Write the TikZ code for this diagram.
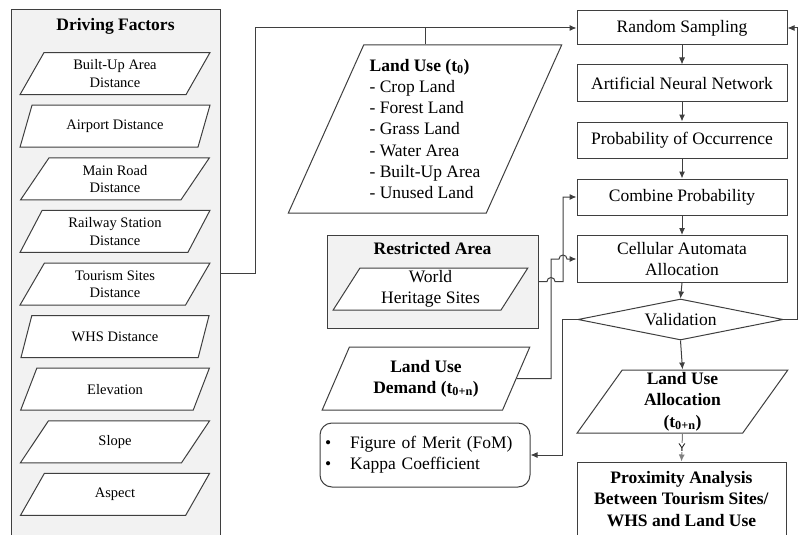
\documentclass[tikz,border=0pt]{standalone}
\usepackage{fontspec}
\setmainfont{Liberation Serif}
\setsansfont{Liberation Sans}
\usetikzlibrary{arrows.meta}
\usetikzlibrary{shapes}
\definecolor{boxgray}{HTML}{F2F2F2}
\definecolor{linegray}{HTML}{3F3F3F}

\begin{document}
\begin{tikzpicture}[x = 1pt, y = -1pt, font = \fontsize{17.5}{21.3}\selectfont, >={Latex[length=7pt,width=6pt]}]
\tikzstyle{GroupStyle}=[rectangle, draw = linegray, line width = 1pt, fill = boxgray]
\tikzstyle{ProcStyle}=[rectangle, draw = linegray, line width = 1pt, minimum width = 210pt, align = center, inner sep = 2pt]
\tikzstyle{DataStyle}=[trapezium, trapezium left angle = 64, trapezium right angle = 116, trapezium stretches = true, draw = linegray, line width = 1pt, fill = white, align = center, inner sep = 1pt]
\tikzstyle{FactorStyle}=[DataStyle, minimum width = 190pt, minimum height = 42pt, font = \fontsize{14.5}{17.3}\selectfont]
\tikzstyle{LinkStyle}=[draw = linegray, line width = 1pt]
\useasboundingbox (0,0) rectangle (798,535);
\node[GroupStyle, minimum width = 209pt, minimum height = 527pt] (df) at (115.5,273.5) {};
\node (dft) at (115.5,26) {\textbf{Driving Factors}};
\node[FactorStyle] (f1) at (115,73.6) {Built-Up Area\\Distance};
\node[FactorStyle] (f2) at (115,126.2) {Airport Distance};
\node[FactorStyle] (f3) at (115,178.8) {Main Road\\Distance};
\node[FactorStyle] (f4) at (115,231.4) {Railway Station\\Distance};
\node[FactorStyle] (f5) at (115,284) {Tourism Sites\\Distance};
\node[FactorStyle] (f6) at (115,336.6) {WHS Distance};
\node[FactorStyle] (f7) at (115,389.2) {Elevation};
\node[FactorStyle] (f8) at (115,441.8) {Slope};
\node[FactorStyle] (f9) at (115,494.4) {Aspect};
\node[DataStyle, align = left, minimum width = 274pt, minimum height = 168pt] (lu) at (425,129) {\textbf{Land Use (t\textsubscript{0})}\\- Crop Land\\- Forest Land\\- Grass Land\\- Water Area\\- Built-Up Area\\- Unused Land};
\node[GroupStyle, minimum width = 211pt, minimum height = 93pt] (ra) at (432.5,281.5) {};
\node (rat) at (432.5,249) {\textbf{Restricted Area}};
\node[DataStyle, minimum width = 195pt, minimum height = 42pt] (whs) at (430.5,289) {World\\Heritage Sites};
\node[DataStyle, minimum width = 208pt, minimum height = 63pt] (lud) at (426,378.5) {\textbf{Land Use}\\\textbf{Demand (t\textsubscript{0+n})}};
\node[rectangle, rounded corners = 12pt, draw = linegray, line width = 1pt, minimum width = 210pt, minimum height = 64pt, text width = 200pt, inner xsep = 5pt, align = left] (fom) at (425,455) {\textbullet\hspace{19pt}Figure of Merit (FoM)\\\textbullet\hspace{19pt}Kappa Coefficient};
\node[ProcStyle, minimum height = 34pt] (rs) at (682,28) {Random Sampling};
\node[ProcStyle, minimum height = 36pt] (ann) at (682,83) {Artificial Neural Network};
\node[ProcStyle, minimum height = 36pt] (poo) at (682,140) {Probability of Occurrence};
\node[ProcStyle, minimum height = 36pt] (cp) at (682,197) {Combine Probability};
\node[ProcStyle, minimum height = 47pt] (ca) at (682,259) {Cellular Automata\\Allocation};
\node[diamond, aspect = 5, draw = linegray, line width = 1pt, inner sep = 1pt, minimum width = 205pt, minimum height = 41pt] (val) at (680.5,319.5) {Validation};
\node[DataStyle, minimum width = 211pt, minimum height = 63pt] (lua) at (682.5,401.5) {\textbf{Land Use}\\\textbf{Allocation}\\\textbf{(t\textsubscript{0+n})}};
\node[ProcStyle, minimum width = 209pt, minimum height = 74pt] (pa) at (681.5,499) {\textbf{Proximity Analysis}\\\textbf{Between Tourism Sites/}\\\textbf{WHS and Land Use}};
\draw[LinkStyle, ->] (df.east) -- (255,273.5) |- (rs.west);
\draw[LinkStyle] (lu.center |- lu.north) -- (lu.center |- rs.west);
\draw[LinkStyle, ->] (rs.south) -- (ann.north);
\draw[LinkStyle, ->] (ann.south) -- (poo.north);
\draw[LinkStyle, ->] (poo.south) -- (cp.north);
\draw[LinkStyle, ->] (cp.south) -- (ca.north);
\draw[LinkStyle, ->] (ca.south) -- (val.north);
\draw[LinkStyle, ->] (val.south) -- (lua.center |- lua.north);
\draw[LinkStyle, ->] (val.east) -- (797,319.5) |- (rs.east);
\draw[LinkStyle, ->] (val.west) -- (562,319.5) |- (fom.east);
\draw[LinkStyle, ->] (ra.east) -- (547,281.5) arc[start angle = 180, end angle = 0, radius = 4pt] -- (563,281.5) |- (cp.west);
\draw[LinkStyle, ->] (lud.east) -- (551,378.5) -- (551,259) -- (559,259) arc[start angle = 180, end angle = 0, radius = 4pt] -- (ca.west);
\draw[LinkStyle, draw = gray, ->] (lua.center |- lua.south) -- node[fill = white, inner sep = 1pt, font = \sffamily\fontsize{11}{12}\selectfont] (y) {Y} (pa.center |- pa.north);
\end{tikzpicture}
\end{document}
